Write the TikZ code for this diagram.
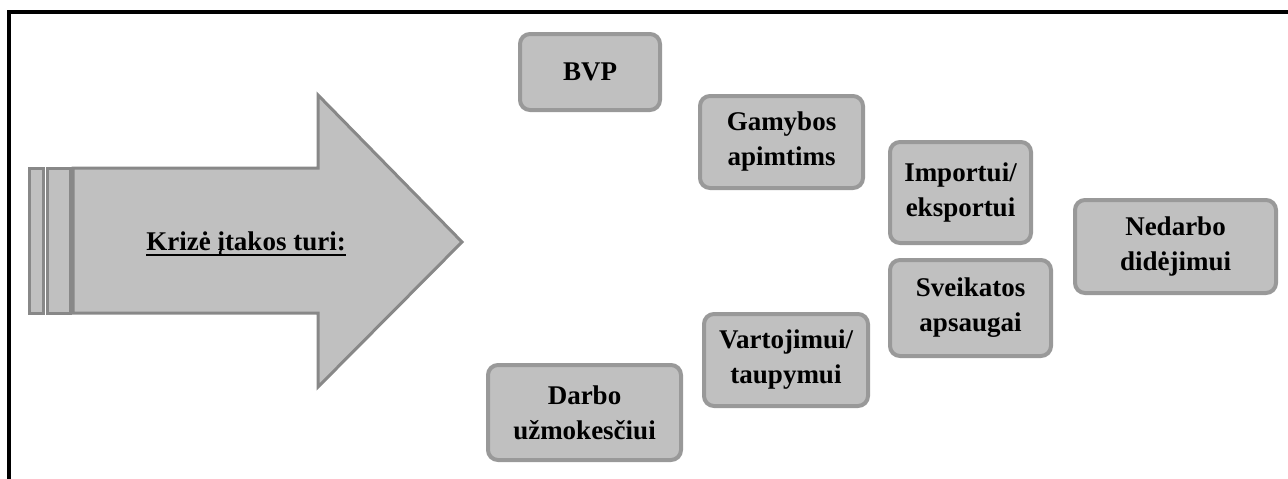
\documentclass[tikz,border=0pt]{standalone}
\usepackage{fontspec}
\setmainfont{Liberation Serif}
\definecolor{boxfill}{HTML}{C0C0C0}
\definecolor{boxline}{HTML}{999999}
\definecolor{arrowline}{HTML}{888888}
\begin{document}
\begin{tikzpicture}[x=1pt,y=-1pt,
  boxfont/.style={font=\fontsize{27}{35}\selectfont\bfseries},
  factor/.style={draw=boxline, line width=4pt, fill=boxfill, rounded corners=10pt,
    align=center, inner sep=0pt, boxfont},
  arrowpart/.style={draw=arrowline, line width=3pt, fill=boxfill, line join=miter}]
\useasboundingbox (0,0) rectangle (1288,479);
% frame (top and left edges)
\draw[line width=4pt] (1290,12) -- (9,12) -- (9,481);
% big arrow with striped tail
\draw[arrowpart] (29,168) rectangle (43,313);
\draw[arrowpart] (47,168) rectangle (70,313);
\draw[arrowpart] (73,168) -- (318,168) -- (318,95) -- (462,242) -- (318,387)
  -- (318,313) -- (73,313) -- cycle;
\node[inner sep=0pt, boxfont, anchor=base] (lbl) at (246,250) {Krizė įtakos turi:};
\draw[line width=1.6pt] ([yshift=-5pt]lbl.base west) -- ([yshift=-5pt]lbl.base east);
% factor boxes
\node[factor, minimum width=140pt, minimum height=76pt] (bvp) at (590,72) {BVP};
\node[factor, minimum width=163pt, minimum height=92pt] (gam) at (781.5,142) {Gamybos\\apimtims};
\node[factor, minimum width=141pt, minimum height=101pt] (imp) at (960.5,192.5) {Importui/\\eksportui};
\node[factor, minimum width=201pt, minimum height=93pt] (ned) at (1175.5,246.5) {Nedarbo\\didėjimui};
\node[factor, minimum width=161pt, minimum height=96pt] (sve) at (970.5,308) {Sveikatos\\apsaugai};
\node[factor, minimum width=164pt, minimum height=92pt] (var) at (786,360) {Vartojimui/\\taupymui};
\node[factor, minimum width=193pt, minimum height=95pt] (dar) at (584.5,412.5) {Darbo\\užmokesčiui};
\end{tikzpicture}
\end{document}
